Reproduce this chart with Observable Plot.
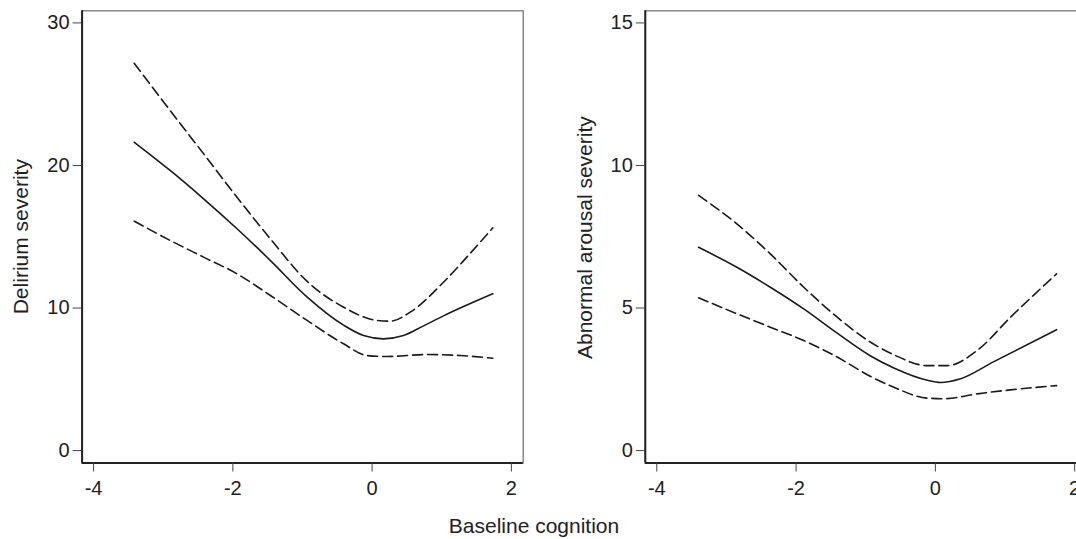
<!DOCTYPE html>
<html><head><meta charset="utf-8">
<script src="https://cdn.jsdelivr.net/npm/d3@7"></script>
<script src="https://cdn.jsdelivr.net/npm/@observablehq/plot@0.6"></script>
<style>
html,body{margin:0;padding:0;background:#fff;}
#wrap{position:relative;width:1076px;height:539px;overflow:hidden;background:#fff;}
#left,#right{position:absolute;top:0;width:540px;height:505px;}
#left{left:0}
#right{left:560px}
#titles{position:absolute;left:0;top:0;pointer-events:none}
</style></head><body>
<div id="wrap"><div id="left"></div><div id="right"></div><svg id="titles" width="1076" height="539"></svg></div>
<script>
// ---- data ----
const xTicks = [-4, -2, 0, 2];
const xDomain = [-4.165, 2.17];

// Left panel: Delirium severity
const delYTicks = [0, 10, 20, 30];
const delYDomain = [-0.87, 30.85];
const delFitX = [-3.416, -2.90, -2.42, -1.94, -1.46, -0.94, -0.41, -0.123, 0.164, 0.45, 0.74, 1.025, 1.734];
const delFitY = [21.63, 19.65, 17.66, 15.56, 13.33, 10.80, 8.80, 8.07, 7.84, 8.07, 8.75, 9.45, 11.0];
const delHiX = [-3.416, -2.90, -2.42, -1.94, -1.46, -0.94, -0.41, 0.069, 0.26, 0.547, 1.025, 1.36, 1.734];
const delHiY = [27.17, 23.85, 20.82, 17.77, 14.85, 11.9, 10.06, 9.13, 9.08, 9.71, 11.81, 13.57, 15.63];
const delLoX = [-3.416, -2.90, -2.42, -1.94, -1.46, -0.94, -0.41, -0.075, 0.212, 0.787, 1.265, 1.734];
const delLoY = [16.09, 14.74, 13.57, 12.40, 10.88, 9.15, 7.49, 6.67, 6.60, 6.74, 6.67, 6.48];

// Right panel: Abnormal arousal severity
const arYTicks = [0, 5, 10, 15];
const arYDomain = [-0.435, 15.425];
const arFitX = [-3.40, -2.85, -2.37, -1.89, -1.41, -0.93, -0.596, -0.116, 0.075, 0.362, 0.84, 1.74];
const arFitY = [7.13, 6.43, 5.73, 4.97, 4.12, 3.32, 2.90, 2.47, 2.39, 2.52, 3.12, 4.24];
const arHiX = [-3.40, -2.85, -2.37, -1.89, -1.41, -0.93, -0.596, -0.116, 0.171, 0.60, 1.08, 1.74];
const arHiY = [8.95, 7.95, 6.90, 5.73, 4.68, 3.80, 3.36, 2.98, 2.98, 3.51, 4.68, 6.20];
const arLoX = [-3.40, -2.85, -2.37, -1.89, -1.41, -0.93, -0.596, -0.116, 0.122, 0.60, 1.08, 1.74];
const arLoY = [5.36, 4.80, 4.33, 3.86, 3.28, 2.60, 2.22, 1.84, 1.82, 1.99, 2.13, 2.28];

const xTitle = "Baseline cognition";
const delTitle = "Delirium severity";
const arTitle = "Abnormal arousal severity";

// ---- drawing ----
const pts = (xs, ys) => xs.map((x, i) => ({x, y: ys[i]}));
const font = "Liberation Sans, Arial, Helvetica, sans-serif";

function panel({fit, hi, lo, yTicks, yDomain, marginLeft, marginRight}) {
  const lineOpts = {x: "x", y: "y", curve: "monotone-x", stroke: "#1a1a1a", strokeWidth: 1.6};
  return Plot.plot({
    width: 540, height: 505,
    marginLeft, marginRight, marginTop: 10.3, marginBottom: 42.5,
    style: {fontFamily: font, fontSize: "20px", color: "#222", background: "#fff", maxWidth: "none", overflow: "visible"},
    x: {domain: xDomain},
    y: {domain: yDomain},
    marks: [
      Plot.frame({stroke: "#777", strokeWidth: 1.3}),
      Plot.ruleX([xDomain[0]], {stroke: "#222", strokeWidth: 2}),
      Plot.ruleY([yDomain[0]], {stroke: "#222", strokeWidth: 2}),
      Plot.axisX(xTicks, {tickSize: 9, tickPadding: 8.5, tickFormat: d => String(d), label: null, stroke: "#444"}),
      Plot.axisY(yTicks, {tickSize: 9, tickPadding: 3.5, tickFormat: d => String(d), label: null, stroke: "#444"}),
      Plot.line(hi, {...lineOpts, strokeDasharray: "10,5"}),
      Plot.line(lo, {...lineOpts, strokeDasharray: "10,5"}),
      Plot.line(fit, lineOpts)
    ]
  });
}

document.getElementById("left").appendChild(panel({
  fit: pts(delFitX, delFitY), hi: pts(delHiX, delHiY), lo: pts(delLoX, delLoY),
  yTicks: delYTicks, yDomain: delYDomain, marginLeft: 81.6, marginRight: 17.3
}));
document.getElementById("right").appendChild(panel({
  fit: pts(arFitX, arFitY), hi: pts(arHiX, arHiY), lo: pts(arLoX, arLoY),
  yTicks: arYTicks, yDomain: arYDomain, marginLeft: 84.8, marginRight: 14
}));

const t = d3.select("#titles").style("font-family", font).style("font-size", "21px").attr("fill", "#222");
t.append("text").attr("x", 534).attr("y", 533).attr("text-anchor", "middle").text(xTitle);
t.append("text").attr("transform", "translate(28,236.7) rotate(-90)").attr("text-anchor", "middle").text(delTitle);
t.append("text").attr("transform", "translate(592,237.6) rotate(-90)").attr("text-anchor", "middle").text(arTitle);
</script>
</body></html>
